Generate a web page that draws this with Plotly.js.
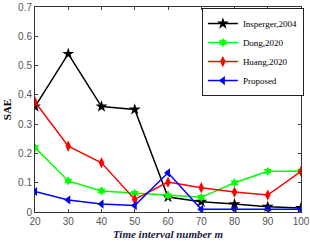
<!DOCTYPE html>
<html><head><meta charset="utf-8">
<script src="https://cdn.plot.ly/plotly-3.0.1.min.js"></script>
<style>html,body{margin:0;padding:0;background:#fff}#c{width:310px;height:241px}</style>
</head><body><div id="c"></div>
<script>
const xVals = [20, 30, 40, 50, 60, 70, 80, 90, 100];
const insperger = [0.36, 0.54, 0.36, 0.35, 0.051, 0.035, 0.027, 0.018, 0.014];
const dong = [0.22, 0.106, 0.072, 0.064, 0.056, 0.05, 0.10, 0.139, 0.139];
const huang = [0.376, 0.225, 0.168, 0.043, 0.102, 0.083, 0.068, 0.058, 0.139];
const proposed = [0.07, 0.041, 0.027, 0.022, 0.134, 0.009, 0.009, 0.009, 0.009];
const names = ['Insperger,2004', 'Dong,2020', 'Huang,2020', 'Proposed'];

const mk = (y, name, color, sym, size) => ({
  x: xVals, y: y, name: name, type: 'scatter', mode: 'lines+markers',
  line: {color: color, width: 1.5},
  marker: {color: color, symbol: sym, size: size}
});
const data = [
  mk(insperger, names[0], '#000000', 'star', 9),
  mk(dong, names[1], '#00ff00', 'hexagram', 7),
  mk(huang, names[2], '#ff0000', 'diamond-tall', 8),
  mk(proposed, names[3], '#0000ff', 'triangle-left', 8)
];
const tickFont = {family: 'Liberation Sans, Arial, sans-serif', size: 10, color: '#555'};
const layout = {
  width: 310, height: 241,
  margin: {l: 35, r: 8, t: 7, b: 29},
  paper_bgcolor: '#fff', plot_bgcolor: '#fff',
  showlegend: true,
  legend: {x: 0.625, y: 0.995, xanchor: 'left', yanchor: 'top',
    bgcolor: '#fff', bordercolor: '#222', borderwidth: 1,
    font: {family: 'Liberation Serif, Times New Roman, serif', size: 9, color: '#000'},
    tracegroupgap: 0, itemwidth: 30},
  xaxis: {range: [20, 100], tickvals: xVals, ticks: 'inside', ticklen: 3,
    showline: true, mirror: 'ticks', linecolor: '#333', linewidth: 1,
    showgrid: false, zeroline: false, tickfont: tickFont,
    title: {text: 'Time interval number m', standoff: 4,
      font: {family: 'Liberation Serif, Times New Roman, serif', size: 11, color: '#1a1a3a', weight: 'bold', style: 'italic'}}},
  yaxis: {range: [0, 0.7], dtick: 0.1, ticks: 'inside', ticklen: 3,
    showline: true, mirror: 'ticks', linecolor: '#333', linewidth: 1,
    showgrid: false, zeroline: false, tickfont: tickFont, tickformat: '.1~f',
    title: {text: 'SAE', standoff: 4,
      font: {family: 'Liberation Serif, Times New Roman, serif', size: 11, color: '#000', weight: 'bold'}}}
};
Plotly.newPlot('c', data, layout, {displayModeBar: false, staticPlot: true});
</script></body></html>
